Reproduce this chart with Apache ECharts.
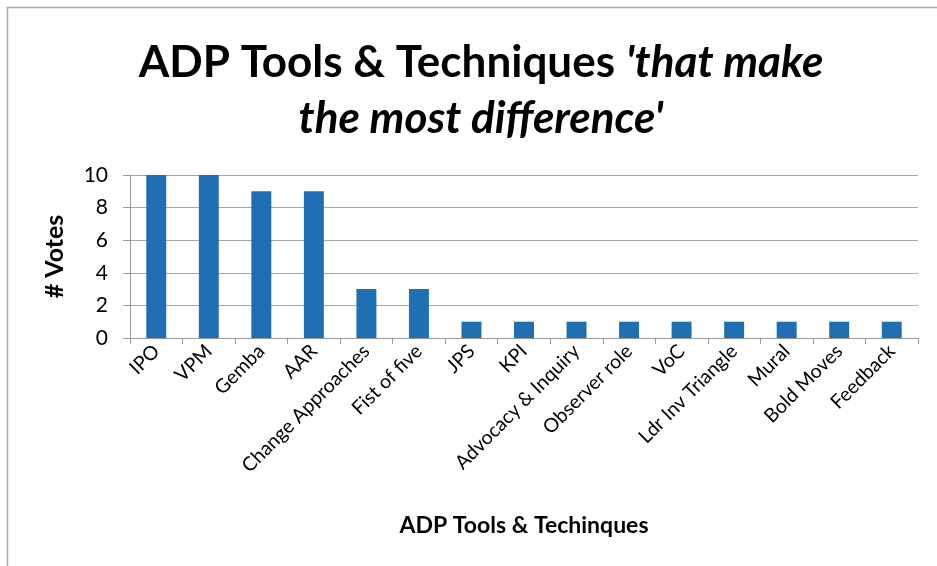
<!DOCTYPE html>
<html>
<head>
<meta charset="utf-8">
<script src="https://cdn.jsdelivr.net/npm/echarts@6/dist/echarts.min.js"></script>
<style>html,body{margin:0;padding:0;background:#fff;}#c{width:937px;height:566px;}</style>
</head>
<body>
<div id="c"></div>
<script>
const categories = ['IPO','VPM','Gemba','AAR','Change Approaches','Fist of five','JPS','KPI','Advocacy & Inquiry','Observer role','VoC','Ldr Inv Triangle','Mural','Bold Moves','Feedback'];
const votes = [10,10,9,9,3,3,1,1,1,1,1,1,1,1,1];
const yTicks = {min:0, max:10, interval:2};

const FONT = 'Lato';
const chart = echarts.init(document.getElementById('c'));
chart.setOption({
  backgroundColor:'#fff',
  animation:false,
  title:{
    text:'{a|ADP Tools & Techniques }{b|\'that make}\n{b|the most difference\'}',
    left:476, top:30, textAlign:'center',
    textStyle:{
      rich:{
        a:{fontFamily:FONT,fontWeight:'bold',fontSize:44,color:'#000',lineHeight:56},
        b:{fontFamily:FONT,fontWeight:'bold',fontStyle:'italic',fontSize:44,color:'#000',lineHeight:56}
      }
    }
  },
  graphic:[{type:'rect',shape:{x:7.5,y:7.5,width:960,height:600},style:{fill:'none',stroke:'#aaa',lineWidth:1.5},silent:true}],
  grid:{left:130,right:19,top:175,bottom:228,containLabel:false},
  xAxis:{
    type:'category',data:categories,
    name:'ADP Tools & Techinques',nameLocation:'middle',nameGap:176,
    nameTextStyle:{fontFamily:FONT,fontWeight:'bold',fontSize:23,color:'#000'},
    axisLine:{lineStyle:{color:'#9a9a9a',width:1}},
    axisTick:{show:true,alignWithLabel:false,length:6,lineStyle:{color:'#9a9a9a'}},
    axisLabel:{interval:0,rotate:45,fontFamily:FONT,fontSize:19.5,color:'#000',margin:10}
  },
  yAxis:{
    type:'value',min:yTicks.min,max:yTicks.max,interval:yTicks.interval,
    name:'# Votes',nameLocation:'middle',nameGap:63,
    nameTextStyle:{fontFamily:FONT,fontWeight:'bold',fontSize:25,color:'#000'},
    axisLine:{show:true,lineStyle:{color:'#9a9a9a'}},
    axisTick:{show:true,length:7,lineStyle:{color:'#9a9a9a'}},
    splitLine:{lineStyle:{color:'#a8a8a8',width:1}},
    axisLabel:{fontFamily:FONT,fontSize:21,color:'#000',margin:22}
  },
  series:[{type:'bar',data:votes,barWidth:'38%',itemStyle:{color:'#1f6fb2'}}]
});
</script>
</body>
</html>
